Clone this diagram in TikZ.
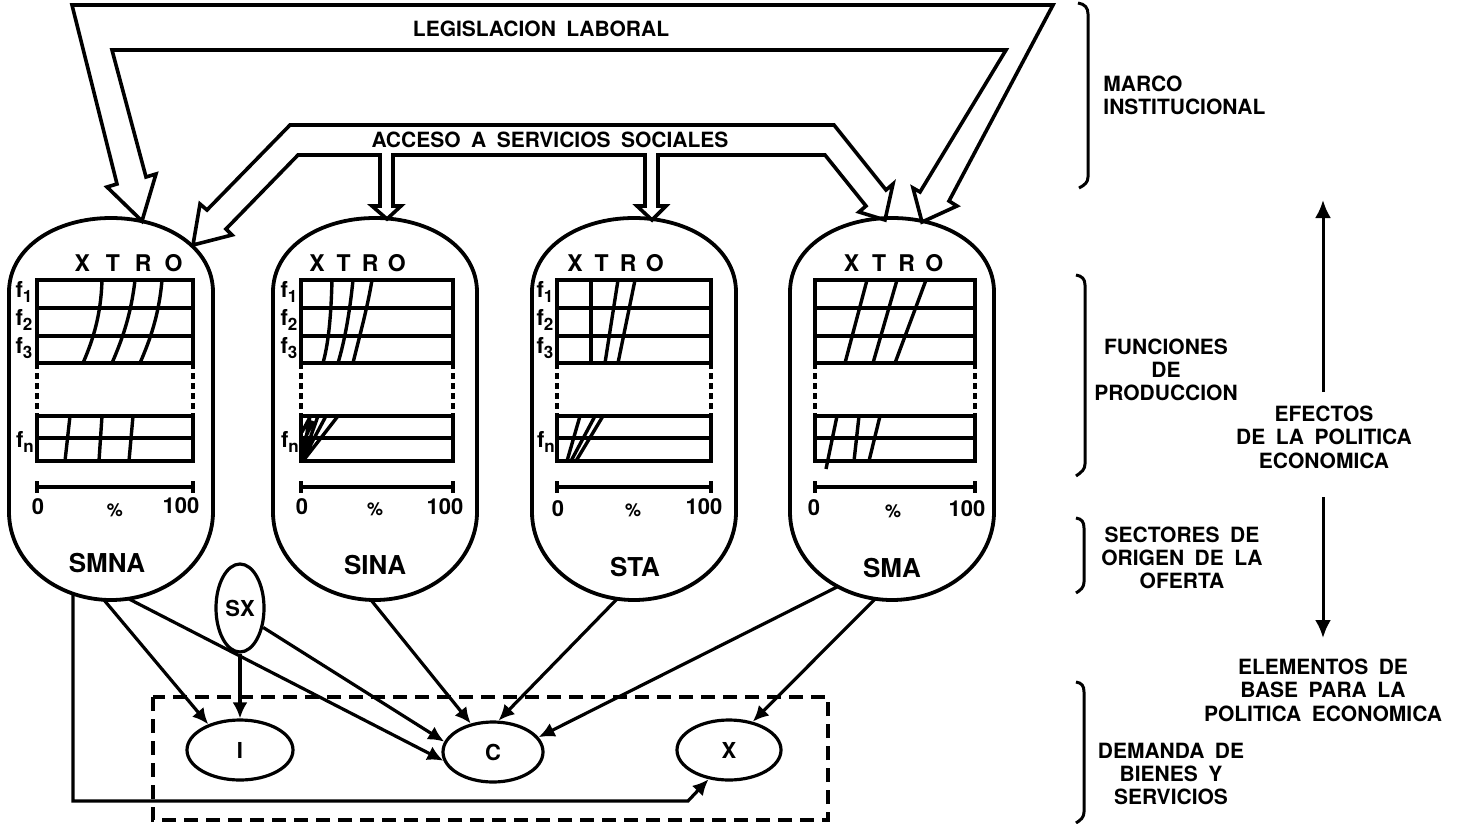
\documentclass[tikz,border=0pt]{standalone}
\usepackage{fontspec}
\setmainfont[WordSpace=1.8]{TeX Gyre Heros}
\usetikzlibrary{arrows.meta,shapes.geometric}

\tikzset{
  band/.style={line width=1.8pt, line join=miter},
  caps/.style={line width=1.9pt},
  gline/.style={line width=1.7pt},
  gdash/.style={line width=1.7pt, dash pattern=on 3pt off 2pt},
  conn/.style={line width=1.6pt, -{Latex[length=8pt,width=7.5pt]}},
  bigarrow/.style={line width=1.5pt, -{Latex[length=9pt,width=8pt]}},
  brk/.style={line width=1.5pt},
  dbox/.style={line width=1.7pt, dash pattern=on 7pt off 4pt},
  ell/.style={draw, ellipse, line width=1.6pt, inner sep=0pt, font=\fontsize{11}{12}\selectfont\bfseries},
  lbl/.style={font=\fontsize{10.5}{11.5}\selectfont\bfseries, align=center, inner sep=0pt},
  lbll/.style={font=\fontsize{10.5}{11.5}\selectfont\bfseries, align=left, inner sep=0pt, anchor=west},
  capname/.style={font=\fontsize{13}{14}\selectfont\bfseries, inner sep=0pt},
  hdr/.style={font=\fontsize{11.5}{12}\selectfont\bfseries, inner sep=0pt},
  flbl/.style={font=\fontsize{11}{12}\selectfont\bfseries, inner sep=0pt},
  num/.style={font=\fontsize{11}{12}\selectfont\bfseries, inner sep=0pt},
  pct/.style={font=\fontsize{9}{10}\selectfont\bfseries, inner sep=0pt},
}

\newcommand{\capsule}[1]{%
  \draw[caps] (#1-102,292) .. controls (#1-102,248) and (#1-56,218) .. (#1,218)
    .. controls (#1+56,218) and (#1+102,248) .. (#1+102,292) -- (#1+102,512)
    .. controls (#1+102,561) and (#1+56,600) .. (#1,600)
    .. controls (#1-56,600) and (#1-102,561) .. (#1-102,512) -- cycle;}

\newcommand{\gridblock}[2]{%
  \draw[gline] (#1,280) rectangle (#2,363) (#1,308) -- (#2,308) (#1,336) -- (#2,336);
  \draw[gdash] (#1,363) -- (#1,416) (#2,363) -- (#2,416);
  \draw[gline] (#1,416) rectangle (#2,461) (#1,438) -- (#2,438);
  \draw[gline] (#1,487) -- (#2,487) (#1,481) -- (#1,493) (#2,481) -- (#2,493);}

\newcommand{\fl}[1]{f\raisebox{-0.45ex}{\fontsize{8.5}{8}\selectfont #1}}
\newcommand{\xtro}[1]{\makebox[#1]{X}\makebox[#1]{T}\makebox[#1]{R}\makebox[#1]{O}}

\begin{document}
\begin{tikzpicture}[x=0.5pt,y=-0.5pt]
\useasboundingbox (0,0) rectangle (1461,824);

% ---------- LEGISLACION LABORAL band ----------
\draw[band] (112,50) -- (146,177) -- (156,174) -- (142,221) -- (107,187) -- (117,184)
  -- (72,5) -- (1053,5) -- (949,201) -- (957,206) -- (922,222) -- (913,188) -- (920,192)
  -- (1006,50) -- cycle;
\node[lbl] (legis) at (541,29) {LEGISLACION LABORAL};

% ---------- ACCESO A SERVICIOS SOCIALES band ----------
\draw[band] (290,125) -- (834,125) -- (886,190) -- (893,184) -- (885,220) -- (859,212)
  -- (866,206) -- (825,155) -- (658,155) -- (658,206) -- (666,206) -- (652,220)
  -- (637,206) -- (645,206) -- (645,155) -- (393,155) -- (393,206) -- (401,206)
  -- (387,219) -- (372,206) -- (380,206) -- (380,155) -- (298,155) -- (226,229)
  -- (232,235) -- (193,245) -- (200,204) -- (207,210) -- cycle;
\node[lbl] (acceso) at (550,140) {ACCESO A SERVICIOS SOCIALES};

% ---------- capsules ----------
\capsule{111}
\capsule{375}
\capsule{634}
\capsule{892}

% grids
\gridblock{37}{193}
\gridblock{301}{453}
\gridblock{557}{711}
\gridblock{815}{975}

% SMNA curves
\draw[gline] (102,280) .. controls (101,315) and (93,340) .. (83,363);
\draw[gline] (135,280) .. controls (131,315) and (122,340) .. (112,363);
\draw[gline] (162,280) .. controls (159,315) and (150,340) .. (140,363);
\draw[gline] (70,416) -- (65,461) (102,416) -- (99,461) (133,416) -- (129,461);

% SINA curves
\draw[gline] (332,280) .. controls (331,320) and (328,345) .. (323,363);
\draw[gline] (353,280) .. controls (350,310) and (345,340) .. (338,363);
\draw[gline] (372,280) .. controls (367,310) and (359,338) .. (353,363);
\draw[gline] (302,461) -- (310,416) (302,461) -- (318,416) (302,461) -- (326,416)
  (303,461) -- (338,416) (302,445) -- (313,421) (302,432) -- (309,419);

% STA curves
\draw[gline] (591,280) -- (591,363);
\draw[gline] (618,280) -- (605,363);
\draw[gline] (635,280) -- (618,363);
\draw[gline] (567,461) -- (580,416) (571,461) -- (595,416) (576,461) -- (603,416);

% SMA curves
\draw[gline] (867,280) -- (845,363);
\draw[gline] (897,280) -- (873,363);
\draw[gline] (926,280) -- (895,363);
\draw[gline] (837,416) -- (826,469) (859,416) -- (854,461) (880,416) -- (869,461);

% headers
\node[hdr] (smna-h) at (128,263) {\xtro{15.2pt}};
\node[hdr] (sina-h) at (357,263) {\xtro{13.3pt}};
\node[hdr] (sta-h) at (615,263) {\xtro{13.3pt}};
\node[hdr] (sma-h) at (893,263) {\xtro{13.8pt}};

% f labels
\node[flbl] (smna-f1) at (24,292) {\fl{1}};
\node[flbl] (smna-f2) at (24,320) {\fl{2}};
\node[flbl] (smna-f3) at (24,348) {\fl{3}};
\node[flbl] (smna-fn) at (25,442) {\fl{n}};
\node[flbl] (sina-f1) at (289,292) {\fl{1}};
\node[flbl] (sina-f2) at (289,320) {\fl{2}};
\node[flbl] (sina-f3) at (289,348) {\fl{3}};
\node[flbl] (sina-fn) at (290,442) {\fl{n}};
\node[flbl] (sta-f1) at (545,292) {\fl{1}};
\node[flbl] (sta-f2) at (545,320) {\fl{2}};
\node[flbl] (sta-f3) at (545,348) {\fl{3}};
\node[flbl] (sta-fn) at (546,442) {\fl{n}};

% scale labels
\node[num] (smna-0) at (38,507) {0};
\node[pct] (smna-p) at (115,510) {\%};
\node[num] (smna-100) at (181,506) {100};
\node[num] (sina-0) at (302,507) {0};
\node[pct] (sina-p) at (375,509) {\%};
\node[num] (sina-100) at (445,507) {100};
\node[num] (sta-0) at (558,509) {0};
\node[pct] (sta-p) at (633,510) {\%};
\node[num] (sta-100) at (704,507) {100};
\node[num] (sma-0) at (814,508) {0};
\node[pct] (sma-p) at (893,511) {\%};
\node[num] (sma-100) at (967,509) {100};

% capsule names
\node[capname] (smna) at (107,563) {SMNA};
\node[capname] (sina) at (375,565) {SINA};
\node[capname] (sta) at (635,567) {STA};
\node[capname] (sma) at (892,568) {SMA};

% ---------- demand box ----------
\draw[dbox] (153,697) rectangle (828,820);
\node[ell, minimum width=53pt, minimum height=30pt] (I) at (240,750) {I};
\node[ell, minimum width=50pt, minimum height=30pt] (C) at (493,752) {C};
\node[ell, minimum width=52pt, minimum height=30pt] (X) at (729,750) {X};
\node[ell, minimum width=24pt, minimum height=44pt] (SX) at (240,608) {SX};

% connector end points on capsules
\coordinate (smna-o1) at (73,593);
\coordinate (smna-o2) at (104,600);
\coordinate (smna-o3) at (129,599);
\coordinate (sina-o) at (371,600);
\coordinate (sta-o) at (617,599);
\coordinate (sma-o1) at (837,587);
\coordinate (sma-o2) at (875,599);
\coordinate (bl1) at (73,801);
\coordinate (bl2) at (688,801);

\draw[conn] (smna-o1) -- (bl1) -- (bl2) -- (X.235);
\draw[conn] (smna-o2) -- (I.141);
\draw[conn] (smna-o3) -- (C.190);
\draw[conn] (SX) -- (I);
\draw[conn] (SX.-40) -- (C.168);
\draw[conn] (sina-o) -- (C.128);
\draw[conn] (sta-o) -- (C.80);
\draw[conn] (sma-o1) -- (C.18);
\draw[conn] (sma-o2) -- (X.50);

% ---------- right side ----------
\draw[brk] (1078,3) .. controls (1085,4) and (1088,8) .. (1088,14) -- (1088,177)
  .. controls (1088,182) and (1085,185) .. (1079,188);
\draw[brk] (1076,275) .. controls (1082,276) and (1085,279) .. (1085,285) -- (1085,464)
  .. controls (1085,469) and (1082,472) .. (1076,476);
\draw[brk] (1076,518) .. controls (1082,519) and (1084,522) .. (1084,528) -- (1084,582)
  .. controls (1084,587) and (1081,590) .. (1076,593);
\draw[brk] (1076,682) .. controls (1082,683) and (1084,686) .. (1084,692) -- (1084,812)
  .. controls (1084,817) and (1081,820) .. (1076,823);

\node[lbll] (marco) at (1103,95) {MARCO\\INSTITUCIONAL};
\node[lbl] (funciones) at (1166,370) {FUNCIONES\\DE\\PRODUCCION};
\node[lbl] (sectores) at (1182,558) {SECTORES DE\\ORIGEN DE LA\\OFERTA};
\node[lbl] (demanda) at (1171,774) {DEMANDA DE\\BIENES Y\\SERVICIOS};
\node[lbl, font=\fontsize{10.5}{11.8}\selectfont\bfseries] (efectos) at (1324,437) {EFECTOS\\DE LA POLITICA\\ECONOMICA};
\node[lbl, font=\fontsize{10.5}{11.8}\selectfont\bfseries] (elementos) at (1323,690) {ELEMENTOS DE\\BASE PARA LA\\POLITICA ECONOMICA};

\coordinate (up1) at (1323,392);
\coordinate (up2) at (1323,200);
\coordinate (dn1) at (1323,497);
\coordinate (dn2) at (1323,638);
\draw[bigarrow] (up1) -- (up2);
\draw[bigarrow] (dn1) -- (dn2);
\end{tikzpicture}
\end{document}
